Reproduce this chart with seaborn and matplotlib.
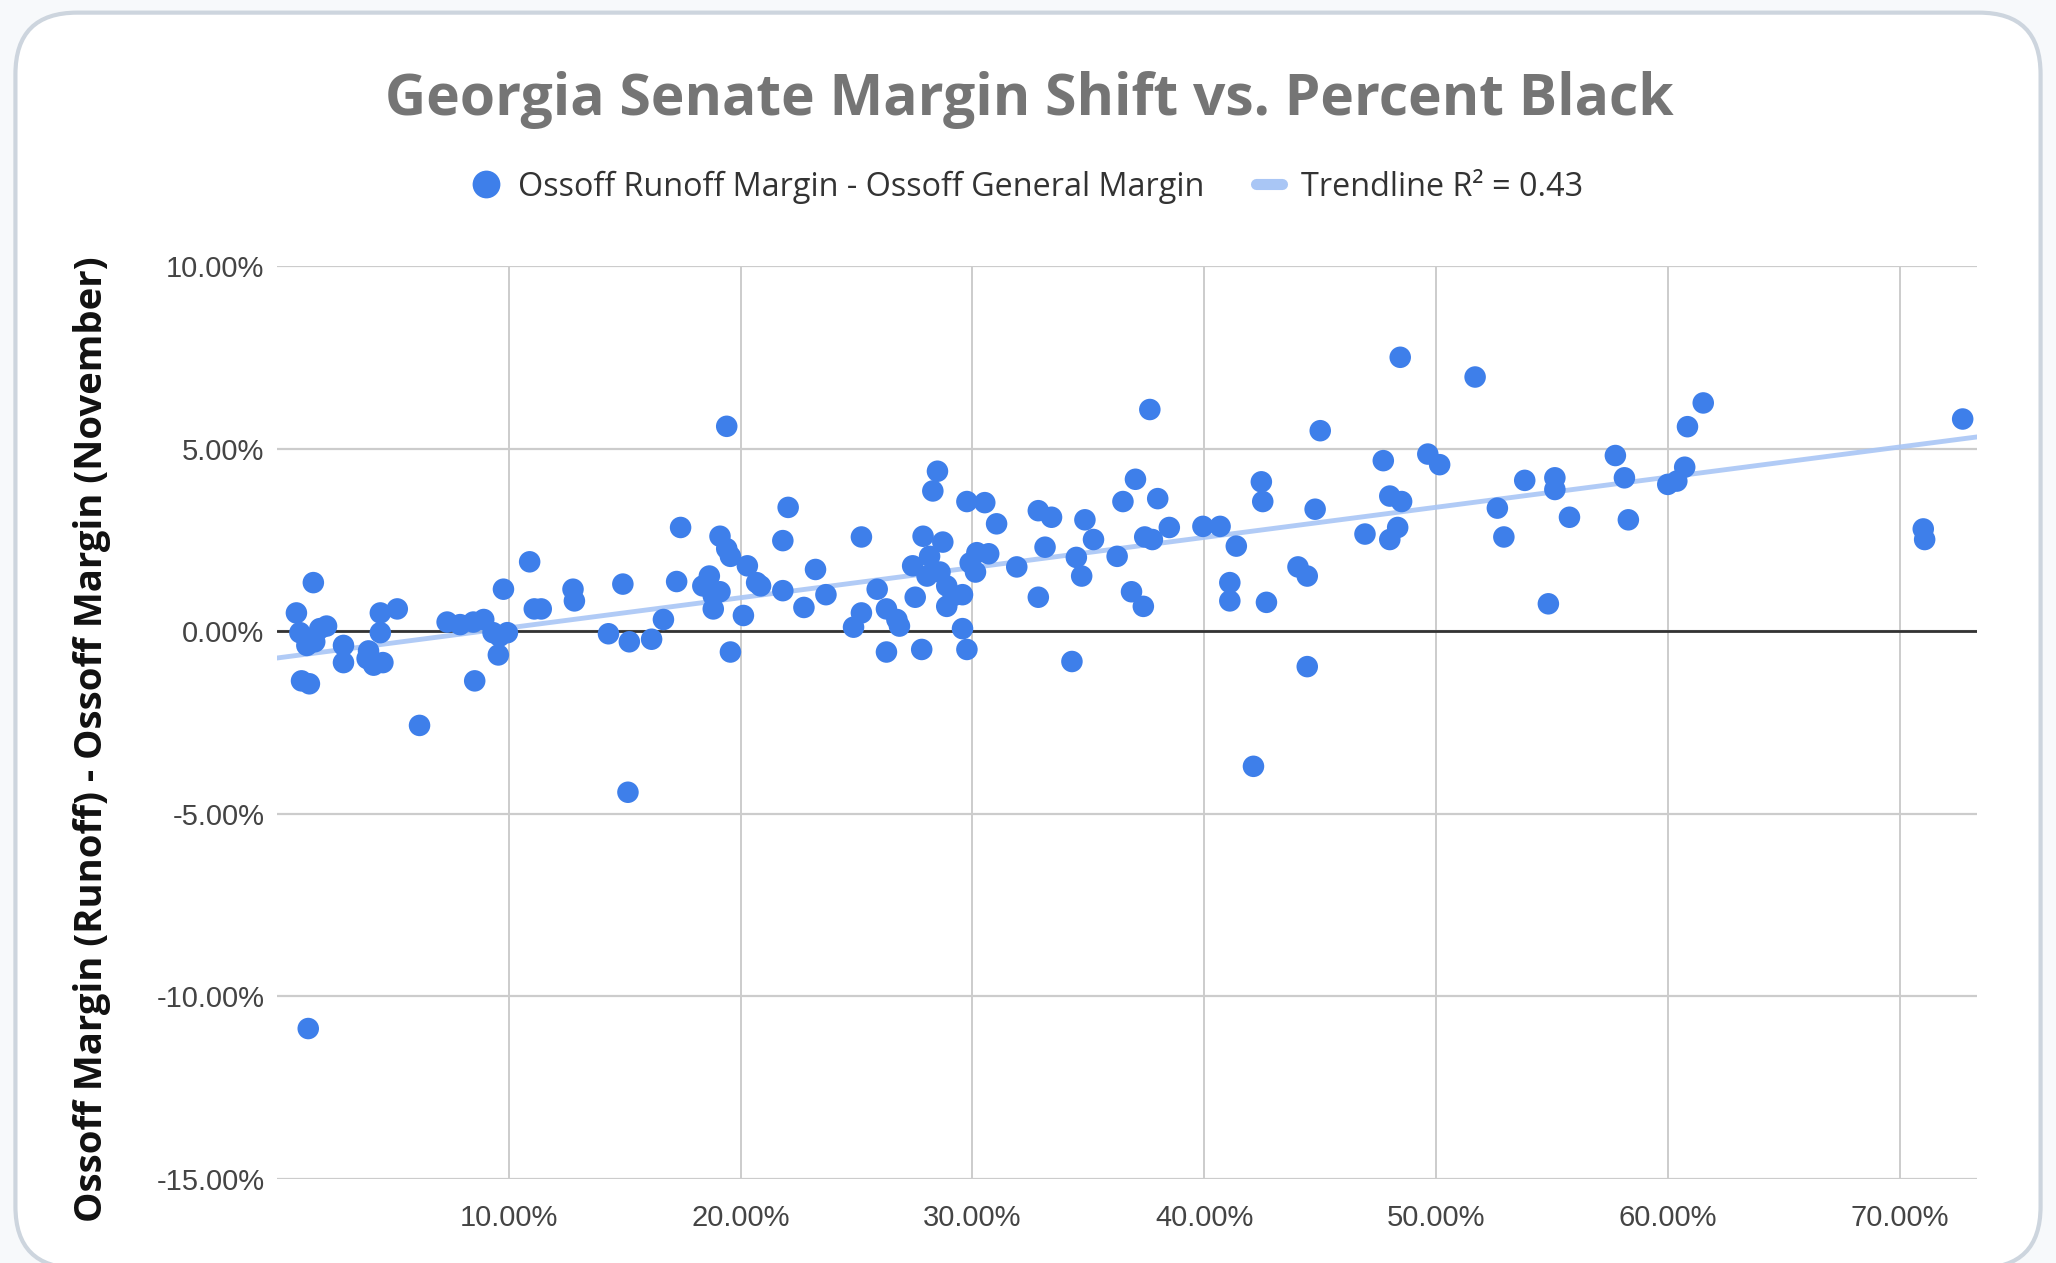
import numpy as np
import pandas as pd
import matplotlib
matplotlib.use("Agg")
import matplotlib.pyplot as plt
from matplotlib.lines import Line2D
from matplotlib.patches import FancyBboxPatch
import seaborn as sns

# percent Black (x) and runoff-minus-general Ossoff margin shift (y), both in %
pct_black = [
    0.84, 0.99, 1.29, 1.85, 2.14, 1.57, 1.40, 1.63, 1.06, 1.40, 1.35,
    2.87, 2.87, 3.89, 4.17, 4.46, 4.46, 5.19, 4.57, 3.95, 6.15,
    7.34, 7.90, 8.47, 8.92, 9.32, 9.60, 9.94, 9.55, 9.77, 8.53,
    10.90, 11.10, 11.40, 12.77, 12.83, 14.30, 14.92, 15.14, 15.20, 16.16,
    16.67, 17.41, 17.24, 19.11, 19.40, 19.56, 18.37, 18.65, 18.82, 19.11,
    18.82, 19.56, 20.12, 20.29, 20.69, 19.40, 20.86, 22.05, 21.82, 21.82,
    22.73, 23.23, 23.68, 25.21, 24.87, 25.21, 25.89, 26.29, 26.74, 26.85,
    26.29, 27.53, 27.81, 27.42, 27.87, 28.15, 28.04, 28.72, 28.60, 28.89,
    28.89, 29.17, 29.57, 28.49, 28.29, 29.57, 29.76, 29.76, 30.53, 31.04,
    29.90, 30.19, 30.70, 30.13, 31.91, 32.84, 32.84, 33.41, 33.13, 34.29,
    34.85, 35.22, 34.48, 34.71, 36.24, 36.49, 37.03, 36.86, 37.37, 37.65,
    37.99, 37.43, 37.76, 38.49, 39.94, 40.68, 41.10, 41.10, 41.38, 42.68,
    42.46, 42.52, 42.12, 44.04, 44.44, 44.44, 44.78, 45.00, 46.93, 47.72,
    48.00, 48.51, 48.00, 48.34, 48.45, 49.64, 50.15, 51.68, 52.64, 52.92,
    53.82, 54.84, 55.12, 55.12, 55.75, 57.73, 58.12, 58.29, 59.99, 60.38,
    60.72, 60.84, 61.52, 72.71, 71.01, 71.07,
]
margin_shift = [
    0.50, -0.04, -0.39, 0.07, 0.14, 1.33, -0.22, -0.29, -1.36, -1.44, -10.88,
    -0.39, -0.86, -0.75, -0.93, -0.04, 0.50, 0.61, -0.86, -0.54, -2.58,
    0.25, 0.18, 0.25, 0.32, -0.04, -0.14, -0.04, -0.65, 1.15, -1.36,
    1.90, 0.61, 0.61, 1.15, 0.83, -0.07, 1.29, -4.41, -0.29, -0.22,
    0.32, 2.84, 1.36, 2.60, 2.26, 2.05, 1.24, 1.51, 0.97, 1.08,
    0.61, -0.57, 0.43, 1.79, 1.33, 5.61, 1.24, 3.39, 2.48, 1.11,
    0.65, 1.69, 1.00, 2.58, 0.11, 0.50, 1.15, 0.61, 0.32, 0.14,
    -0.57, 0.93, -0.50, 1.79, 2.60, 2.05, 1.51, 2.44, 1.62, 1.24,
    0.68, 0.97, 1.00, 4.38, 3.84, 0.07, -0.50, 3.55, 3.52, 2.94,
    1.87, 2.15, 2.12, 1.62, 1.76, 0.93, 3.30, 3.12, 2.30, -0.83,
    3.05, 2.51, 2.02, 1.51, 2.05, 3.55, 4.16, 1.08, 0.68, 6.07,
    3.63, 2.58, 2.51, 2.84, 2.87, 2.87, 1.33, 0.83, 2.33, 0.79,
    4.09, 3.55, -3.70, 1.76, 1.51, -0.97, 3.34, 5.49, 2.66, 4.67,
    3.70, 3.55, 2.51, 2.84, 7.50, 4.85, 4.56, 6.96, 3.37, 2.58,
    4.13, 0.75, 4.20, 3.88, 3.12, 4.81, 4.20, 3.05, 4.02, 4.11,
    4.49, 5.60, 6.25, 5.81, 2.80, 2.51,
]
x_ticks = [10, 20, 30, 40, 50, 60, 70]
y_ticks = [10, 5, 0, -5, -10, -15]

df = pd.DataFrame({"black": pct_black, "shift": margin_shift})

point_color = "#3E7FEA"
trend_color = "#A9C6F5"

sns.set_theme(style="white")
plt.rcParams["font.family"] = ["Open Sans", "DejaVu Sans"]

fig = plt.figure(figsize=(20.56, 12.63), dpi=100)
fig.patch.set_facecolor("#F7F9FB")
# card background with rounded corners
card = FancyBboxPatch((0.0075, -0.004), 0.985, 0.994,
                      boxstyle="round,pad=0,rounding_size=0.03",
                      transform=fig.transFigure, facecolor="white",
                      edgecolor="#CDD5DE", linewidth=3, zorder=-10,
                      mutation_aspect=2056 / 1263)
fig.patches.append(card)

ax = fig.add_axes([0.1347, 0.0665, 0.9616 - 0.1347, 0.7894 - 0.0665])
ax.set_facecolor("none")
ax.set_xlim(0, 73.33)
ax.set_ylim(-15, 10)

# grid
for v in y_ticks:
    ax.axhline(v, color="#CCCCCC", linewidth=1.6, zorder=0)
for v in x_ticks:
    ax.axvline(v, color="#CCCCCC", linewidth=1.4, zorder=0)
ax.axhline(0, color="#333333", linewidth=2, zorder=1)

sns.regplot(data=df, x="black", y="shift", ax=ax, scatter=False, ci=None,
            truncate=False, color=trend_color,
            line_kws={"linewidth": 3.5, "alpha": 0.9, "zorder": 2})
sns.scatterplot(data=df, x="black", y="shift", ax=ax, s=240, color=point_color,
                edgecolor="none", linewidth=0, zorder=3)

ax.set_xticks(x_ticks)
ax.set_yticks(y_ticks)
ax.set_xticklabels([f"{v:.2f}%" for v in x_ticks], fontsize=21,
                   family="Liberation Sans", color="#444444")
ax.set_yticklabels([f"{v:.2f}%" for v in y_ticks], fontsize=21,
                   family="Liberation Sans", color="#444444")
ax.tick_params(axis="y", length=0, pad=9)
ax.tick_params(axis="x", length=0, pad=18)
ax.set_xlabel("")
ax.set_ylabel("")
for s in ax.spines.values():
    s.set_visible(False)

fig.text(0.0447, 0.4145, "Ossoff Margin (Runoff) - Ossoff Margin (November)",
         rotation=90, ha="center", va="center", fontsize=27.5,
         fontweight="bold", color="#111111")

fig.text(0.5006, 0.921, "Georgia Senate Margin Shift vs. Percent Black",
         ha="center", va="center", fontsize=41, fontweight="bold",
         color="#757575")

handles = [
    Line2D([], [], marker="o", linestyle="none", markersize=20,
           markerfacecolor=point_color, markeredgecolor="none"),
    Line2D([], [], color=trend_color, linewidth=8),
]
labels = ["Ossoff Runoff Margin - Ossoff General Margin", "Trendline R\u00b2 = 0.43"]
fig.legend(handles, labels, loc="center", bbox_to_anchor=(0.5, 0.852), ncol=2,
           frameon=False, fontsize=23.3, handlelength=0.8, handletextpad=0.6,
           columnspacing=1.6, labelcolor="#333333")

fig.savefig("out.png", dpi=100)
